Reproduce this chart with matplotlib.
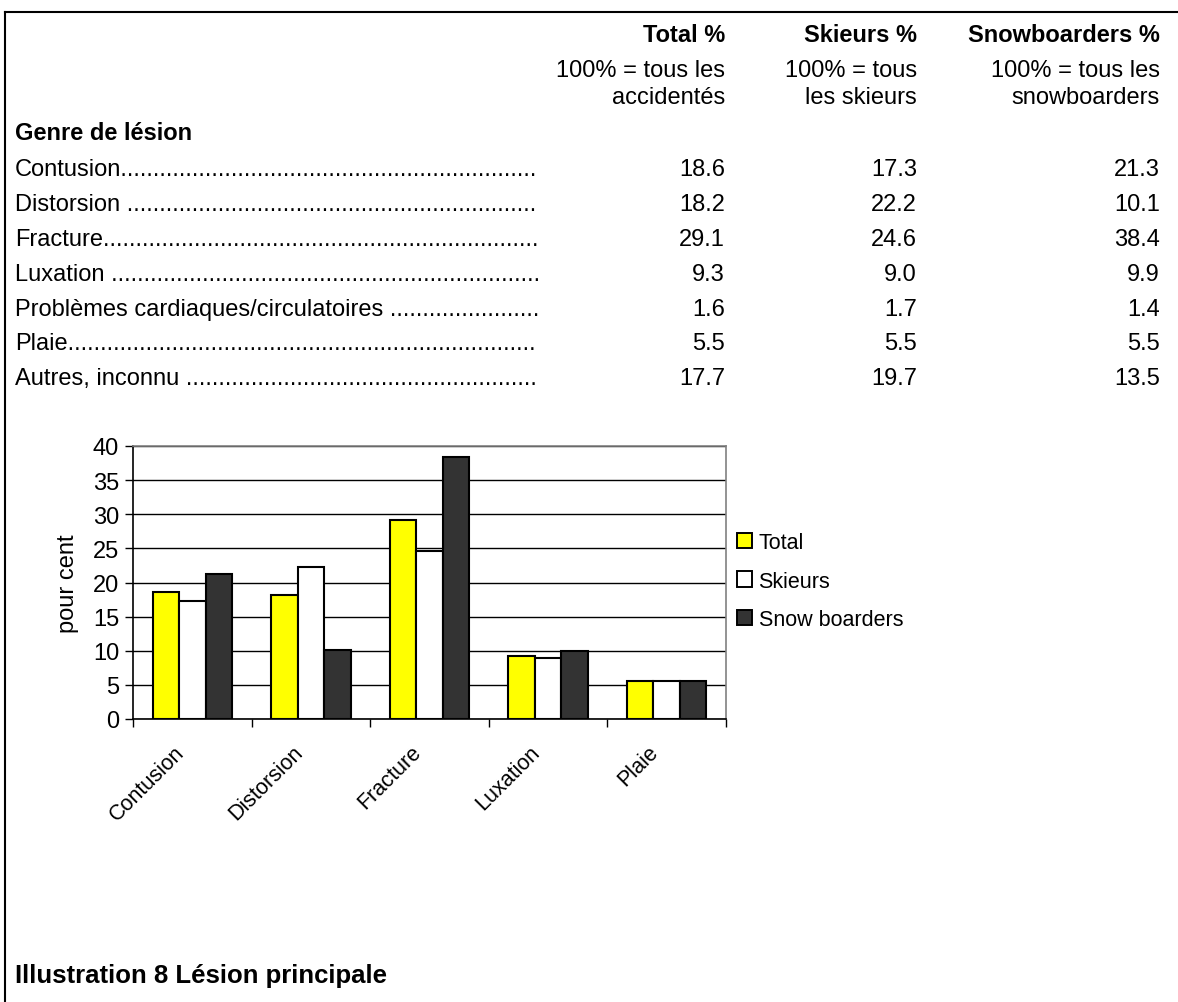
import matplotlib
matplotlib.use("Agg")
import matplotlib.pyplot as plt
from matplotlib.lines import Line2D
from matplotlib.patches import Patch
from matplotlib.transforms import ScaledTranslation
import numpy as np

plt.rcParams['font.family'] = ['Liberation Sans', 'DejaVu Sans']

# ---- data ----
table_rows = ["Contusion", "Distorsion", "Fracture", "Luxation",
              "Problèmes cardiaques/circulatoires", "Plaie", "Autres, inconnu"]
total_pct = [18.6, 18.2, 29.1, 9.3, 1.6, 5.5, 17.7]
skieurs_pct = [17.3, 22.2, 24.6, 9.0, 1.7, 5.5, 19.7]
snow_pct = [21.3, 10.1, 38.4, 9.9, 1.4, 5.5, 13.5]

col_headers = ["Total %", "Skieurs %", "Snowboarders %"]
col_sub = [["100% = tous les", "accidentés"],
           ["100% = tous", "les skieurs"],
           ["100% = tous les", "snowboarders"]]

chart_cats = ["Contusion", "Distorsion", "Fracture", "Luxation", "Plaie"]
chart_total = [18.6, 18.2, 29.1, 9.3, 5.5]
chart_ski = [17.3, 22.2, 24.6, 9.0, 5.5]
chart_snow = [21.3, 10.1, 38.4, 9.9, 5.5]
series_names = ["Total", "Skieurs", "Snow boarders"]
series_colors = ["#FFFF00", "#FFFFFF", "#333333"]
y_ticks = [0, 5, 10, 15, 20, 25, 30, 35, 40]

W, H = 1178, 1003
fig = plt.figure(figsize=(W / 100, H / 100), dpi=100)

def fx(x):
    return x / W

def fy(y):
    return 1 - y / H

FS = 17
FS_CHART = 15.5

# frame lines
fig.add_artist(Line2D([fx(5), fx(1178)], [fy(13), fy(13)], color='black', lw=1.5))
fig.add_artist(Line2D([fx(5), fx(5)], [fy(13), fy(1003)], color='black', lw=1.5))

# table header
col_right = [725, 917, 1160]
for i, h in enumerate(col_headers):
    fig.text(fx(col_right[i]), fy(36), h, ha='right', va='center',
             fontsize=FS, fontweight='bold')
    fig.text(fx(col_right[i]), fy(71), col_sub[i][0], ha='right', va='center', fontsize=FS)
    fig.text(fx(col_right[i]), fy(98), col_sub[i][1], ha='right', va='center', fontsize=FS)

fig.text(fx(15), fy(134), "Genre de lésion", ha='left', va='center',
         fontsize=FS, fontweight='bold')

renderer = fig.canvas.get_renderer()
row_y0, row_dy = 170, 34.9
dots_end = 541
for r, name in enumerate(table_rows):
    y = row_y0 + r * row_dy
    label = name + ("" if name in ("Contusion", "Fracture", "Plaie") else " ")
    t = fig.text(fx(15), fy(y), label, ha='left', va='center', fontsize=FS)
    s = label
    while True:
        t.set_text(s + ".")
        bb = t.get_window_extent(renderer=renderer)
        if bb.x1 > dots_end:
            t.set_text(s)
            break
        s = s + "."
    vals = [total_pct[r], skieurs_pct[r], snow_pct[r]]
    for i, v in enumerate(vals):
        fig.text(fx(col_right[i]), fy(y), f"{v:.1f}", ha='right', va='center', fontsize=FS)

# ---- bar chart ----
ax_l, ax_r, ax_t, ax_b = 133, 726, 447, 720
ax = fig.add_axes([fx(ax_l), fy(ax_b), (ax_r - ax_l) / W, (ax_b - ax_t) / H])
x = np.arange(len(chart_cats))
bw = 0.223
for k, (vals, col) in enumerate(zip([chart_total, chart_ski, chart_snow], series_colors)):
    ax.bar(x + (k - 1) * bw, vals, width=bw, color=col, edgecolor='black',
           linewidth=1.5, zorder=3, label=series_names[k])

ax.set_xlim(-0.5, len(chart_cats) - 0.5)
ax.set_ylim(0, 40)
ax.set_yticks(y_ticks)
ax.set_yticklabels([str(v) for v in y_ticks], fontsize=FS)
ax.yaxis.grid(True, color='black', linewidth=1.0, zorder=0)
ax.set_axisbelow(True)
ax.set_xticks(np.arange(len(chart_cats) + 1) - 0.5)
ax.set_xticklabels([])
# rotated category labels, anchored at their top-right corner
lab_tr = ax.get_xaxis_transform() + ScaledTranslation(-19 / 100, -22 / 100, fig.dpi_scale_trans)
for xi, cat in zip(x, chart_cats):
    ax.text(xi, 0, cat, transform=lab_tr, rotation=45, ha='right', va='top',
            rotation_mode='anchor', fontsize=FS_CHART, clip_on=False)
ax.tick_params(axis='x', which='major', length=6, direction='out', width=1)
ax.tick_params(axis='y', length=6, direction='out', width=1, pad=4)
for side in ['top', 'right']:
    ax.spines[side].set_color('#808080')
    ax.spines[side].set_linewidth(1.2)
for side in ['left', 'bottom']:
    ax.spines[side].set_color('black')
    ax.spines[side].set_linewidth(1.2)
ax.set_ylabel("pour cent", fontsize=FS, labelpad=10)

handles = [Patch(facecolor=c, edgecolor='black', linewidth=1.4) for c in series_colors]
fig.legend(handles, series_names, loc='center left',
           bbox_to_anchor=(fx(737), fy(582)), frameon=False, fontsize=FS_CHART,
           handlelength=0.7, handleheight=0.7, handletextpad=0.3,
           labelspacing=0.8, borderaxespad=0, borderpad=0)

fig.text(fx(15), fy(976), "Illustration 8 Lésion principale", ha='left', va='center',
         fontsize=18.5, fontweight='bold')

fig.savefig("out.png", dpi=100)
